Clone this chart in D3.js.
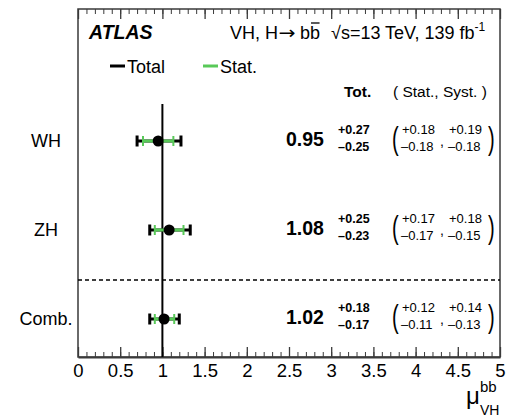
<!DOCTYPE html>
<html>
<head>
<meta charset="utf-8">
<script src="https://cdn.jsdelivr.net/npm/d3@7"></script>
<style>
  html, body { margin: 0; padding: 0; background: #fff; }
  svg { display: block; }
  text { font-family: "Liberation Sans", Arial, Helvetica, sans-serif; fill: #000; }
</style>
</head>
<body>
<svg id="chart" width="506" height="417"></svg>
<script>
// Signal strength measurements for VH, H -> bb
const categories = ["WH", "ZH", "Comb."];
const mu         = [0.95, 1.08, 1.02];
const totUp      = [0.27, 0.25, 0.18];
const totDn      = [0.25, 0.23, 0.17];
const statUp     = [0.18, 0.17, 0.12];
const statDn     = [0.18, 0.17, 0.11];
const systUp     = [0.19, 0.18, 0.14];
const systDn     = [0.18, 0.15, 0.13];
const majorTicks = [0, 0.5, 1, 1.5, 2, 2.5, 3, 3.5, 4, 4.5, 5];
const minorTicks = d3.range(0, 51).map(i => i / 10);

const svg = d3.select("#chart");
const frame = { left: 78, right: 500, top: 9, bottom: 357 };
const green = "#58c958";

const x = d3.scaleLinear().domain([0, 5]).range([frame.left, frame.right]);
const y = d3.scalePoint().domain(categories).range([141, 319]);

const fmt = v => v.toFixed(2);

// Frame
svg.append("rect")
  .attr("x", frame.left).attr("y", frame.top)
  .attr("width", frame.right - frame.left).attr("height", frame.bottom - frame.top)
  .attr("fill", "none").attr("stroke", "#3a3a3a").attr("stroke-width", 1.5);

// Bottom axis: major ticks with labels, minor ticks, pointing inward
const axisMajor = d3.axisBottom(x).tickValues(majorTicks)
  .tickSizeInner(-10).tickSizeOuter(0).tickPadding(7)
  .tickFormat(d => String(d));
const gB = svg.append("g").attr("transform", `translate(0,${frame.bottom})`).call(axisMajor);
gB.select(".domain").attr("stroke", "#3a3a3a").attr("stroke-width", 2);
gB.selectAll(".tick line").attr("stroke", "#3a3a3a").attr("stroke-width", 1.3);
gB.selectAll(".tick text").attr("font-size", 18.5).attr("fill", "#000")
  .style("font-family", "'Liberation Sans', Arial, sans-serif");

const gBm = svg.append("g").attr("transform", `translate(0,${frame.bottom})`)
  .call(d3.axisBottom(x).tickValues(minorTicks).tickSizeInner(-5).tickSizeOuter(0).tickFormat(""));
gBm.select(".domain").remove();
gBm.selectAll(".tick line").attr("stroke", "#3a3a3a").attr("stroke-width", 1);

// Top axis ticks pointing down
const gT = svg.append("g").attr("transform", `translate(0,${frame.top})`)
  .call(d3.axisTop(x).tickValues(majorTicks).tickSizeInner(-10).tickSizeOuter(0).tickFormat(""));
gT.select(".domain").remove();
gT.selectAll(".tick line").attr("stroke", "#3a3a3a").attr("stroke-width", 1.3);
const gTm = svg.append("g").attr("transform", `translate(0,${frame.top})`)
  .call(d3.axisTop(x).tickValues(minorTicks).tickSizeInner(-5).tickSizeOuter(0).tickFormat(""));
gTm.select(".domain").remove();
gTm.selectAll(".tick line").attr("stroke", "#3a3a3a").attr("stroke-width", 1);

// SM reference line at mu = 1
svg.append("line")
  .attr("x1", x(1)).attr("x2", x(1)).attr("y1", 104).attr("y2", frame.bottom)
  .attr("stroke", "#000").attr("stroke-width", 2);

// Separator between channels and combination
const sepY = (y("ZH") + y("Comb.")) / 2 + 5.5;
svg.append("line")
  .attr("x1", frame.left).attr("x2", frame.right).attr("y1", sepY).attr("y2", sepY)
  .attr("stroke", "#000").attr("stroke-width", 1.5).attr("stroke-dasharray", "4,3");

// Header
svg.append("text").attr("x", 89).attr("y", 39)
  .attr("font-size", 19.5).attr("font-weight", "bold").attr("font-style", "italic")
  .text("ATLAS");

// "VH, H -> b bbar" built from pieces so the arrow can be drawn long
const headSize = 18;
let cx = 230;
const t1 = svg.append("text").attr("x", cx).attr("y", 39).attr("font-size", headSize).text("VH, H");
cx += t1.node().getComputedTextLength();
svg.append("text").attr("x", cx + 0.5).attr("y", 39).attr("font-size", headSize)
  .style("font-family", "'DejaVu Sans', sans-serif")
  .attr("textLength", 17).attr("lengthAdjust", "spacingAndGlyphs").text("\u2192");
cx += 22;
const tb = svg.append("text").attr("x", cx).attr("y", 39).attr("font-size", headSize).text("bb");
{
  const n = tb.node();
  const ext = n.getExtentOfChar(1);
  svg.append("line")
    .attr("x1", ext.x + 1).attr("x2", ext.x + ext.width - 0.5)
    .attr("y1", 23).attr("y2", 23)
    .attr("stroke", "#000").attr("stroke-width", 1.3);
}
const energy = svg.append("text").attr("x", 331).attr("y", 39).attr("font-size", headSize);
energy.append("tspan").text("\u221As=13 TeV, 139 fb");
energy.append("tspan").attr("font-size", 12).attr("dy", -8).text("-1");

// Legend
const legend = [
  { label: "Total", color: "#000", x: 110 },
  { label: "Stat.", color: green, x: 203 }
];
legend.forEach(l => {
  svg.append("line").attr("x1", l.x).attr("x2", l.x + 15).attr("y1", 66).attr("y2", 66)
    .attr("stroke", l.color).attr("stroke-width", 3);
  svg.append("text").attr("x", l.x + 17).attr("y", 73).attr("font-size", 18).text(l.label);
});

// Column headers
svg.append("text").attr("x", 344).attr("y", 97).attr("font-size", 15.5)
  .attr("font-weight", "bold").text("Tot.");
svg.append("text").attr("x", 393).attr("y", 97).attr("font-size", 15.5)
  .text("( Stat., Syst. )");

// Row labels
svg.selectAll("text.cat").data(categories).join("text")
  .attr("class", "cat")
  .attr("x", 46).attr("y", d => y(d) + 6)
  .attr("text-anchor", "middle").attr("font-size", 18)
  .text(d => d);

// Error bars
const rows = categories.map((c, i) => ({
  c, mu: mu[i], tu: totUp[i], td: totDn[i], su: statUp[i], sd: statDn[i], yu: systUp[i], yd: systDn[i]
}));

const g = svg.append("g");
rows.forEach(r => {
  const yy = y(r.c);
  // total
  g.append("line").attr("x1", x(r.mu - r.td)).attr("x2", x(r.mu + r.tu))
    .attr("y1", yy).attr("y2", yy).attr("stroke", "#000").attr("stroke-width", 3);
  [r.mu - r.td, r.mu + r.tu].forEach(v => {
    g.append("line").attr("x1", x(v)).attr("x2", x(v)).attr("y1", yy - 5.5).attr("y2", yy + 5.5)
      .attr("stroke", "#000").attr("stroke-width", 3);
  });
  // statistical
  g.append("line").attr("x1", x(r.mu - r.sd)).attr("x2", x(r.mu + r.su))
    .attr("y1", yy).attr("y2", yy).attr("stroke", green).attr("stroke-width", 3);
  [r.mu - r.sd, r.mu + r.su].forEach(v => {
    g.append("line").attr("x1", x(v)).attr("x2", x(v)).attr("y1", yy - 5).attr("y2", yy + 5)
      .attr("stroke", green).attr("stroke-width", 2);
  });
  // central value
  g.append("circle").attr("cx", x(r.mu)).attr("cy", yy).attr("r", 5.5).attr("fill", "#000");
});

// Numerical results
rows.forEach(r => {
  const yy = y(r.c);
  svg.append("text").attr("x", 286).attr("y", yy + 5).attr("font-size", 19.5)
    .attr("font-weight", "bold").text(r.mu.toFixed(2));
  svg.append("text").attr("x", 338).attr("y", yy - 7).attr("font-size", 12.5)
    .attr("font-weight", "bold").text("+" + fmt(r.tu));
  svg.append("text").attr("x", 338).attr("y", yy + 10).attr("font-size", 12.5)
    .attr("font-weight", "bold").text("\u2013" + fmt(r.td));

  // ( stat , syst )
  svg.append("text").attr("transform", `translate(392,${yy + 8}) scale(1,1.6)`)
    .attr("font-size", 20).text("(");
  svg.append("text").attr("transform", `translate(488,${yy + 8}) scale(1,1.6)`)
    .attr("font-size", 20).text(")");
  svg.append("text").attr("x", 402).attr("y", yy - 7).attr("font-size", 13).text("+" + fmt(r.su));
  svg.append("text").attr("x", 401).attr("y", yy + 10).attr("font-size", 13).text("\u2013" + fmt(r.sd));
  svg.append("text").attr("x", 440).attr("y", yy + 5).attr("font-size", 14).text(",");
  svg.append("text").attr("x", 449).attr("y", yy - 7).attr("font-size", 13).text("+" + fmt(r.yu));
  svg.append("text").attr("x", 448).attr("y", yy + 10).attr("font-size", 13).text("\u2013" + fmt(r.yd));
});

// Axis title
svg.append("text").attr("x", 466).attr("y", 404).attr("font-size", 24).text("\u03BC");
svg.append("text").attr("x", 480).attr("y", 392).attr("font-size", 15).text("bb");
svg.append("text").attr("x", 480).attr("y", 415).attr("font-size", 14).text("VH");
</script>
</body>
</html>
